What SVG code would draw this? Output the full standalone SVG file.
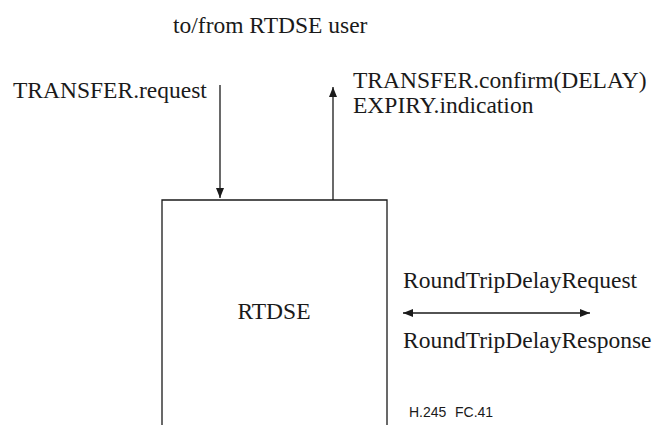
<svg xmlns="http://www.w3.org/2000/svg" width="656" height="425" viewBox="0 0 656 425">
<style>
.t{font-family:"Liberation Serif","Times New Roman","DejaVu Serif",Times,serif;font-size:23.5px;fill:#1a1a1a}
.s{font-family:"Liberation Sans",Arial,"DejaVu Sans",sans-serif;font-size:14px;fill:#1a1a1a}
.l{stroke:#1a1a1a;stroke-width:1.3;fill:none}
</style>
<defs>
<marker id="ah" viewBox="0 0 10 10" refX="10" refY="5" markerWidth="10" markerHeight="10" markerUnits="userSpaceOnUse" orient="auto-start-reverse">
<path d="M0,1 L10,5 L0,9 Z" fill="#1a1a1a"/>
</marker>
</defs>
<rect width="656" height="425" fill="#fff"/>
<text class="t" x="173" y="33">to/from RTDSE user</text>
<text class="t" x="13" y="98">TRANSFER.request</text>
<text class="t" x="353" y="88">TRANSFER.confirm(DELAY)</text>
<text class="t" x="353" y="113">EXPIRY.indication</text>
<g id="rtdse">
<path class="l" d="M162,425 V200 H387 V425"/>
<text class="t" x="274" y="319" text-anchor="middle">RTDSE</text>
</g>
<text class="t" x="403" y="288">RoundTripDelayRequest</text>
<text class="t" x="403" y="348">RoundTripDelayResponse</text>
<text class="s" x="409" y="417">H.245</text>
<text class="s" x="455" y="417">FC.41</text>
<g id="connectors">
<line class="l" x1="220" y1="85" x2="220" y2="198" marker-end="url(#ah)"/>
<line class="l" x1="333" y1="200" x2="333" y2="87" marker-end="url(#ah)"/>
<line class="l" x1="403" y1="313" x2="590" y2="313" marker-start="url(#ah)" marker-end="url(#ah)"/>
</g>
</svg>
